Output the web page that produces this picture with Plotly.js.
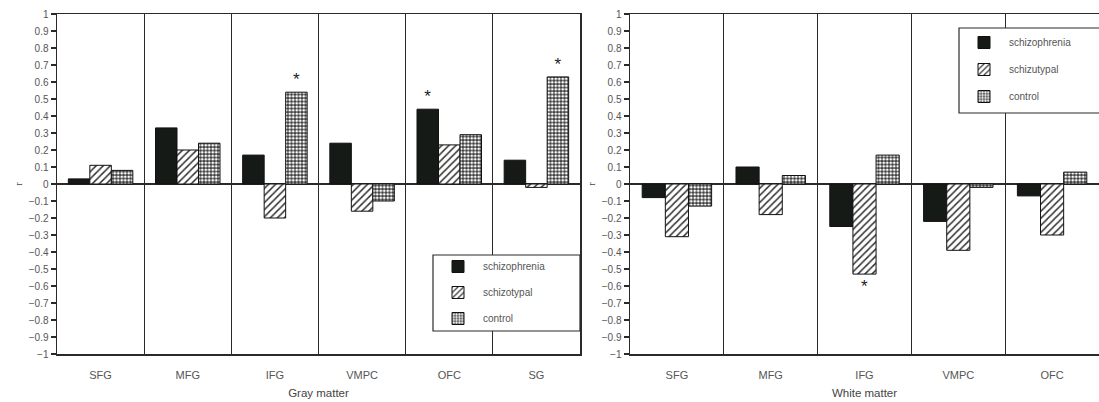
<!DOCTYPE html>
<html>
<head>
<meta charset="utf-8">
<script src="https://cdn.plot.ly/plotly-3.0.1.min.js"></script>
<style>html,body{margin:0;padding:0;background:#fff;}#chart{width:1099px;height:402px;}</style>
</head>
<body>
<div id="chart"></div>
<script>
// ---- data ----
const grayRegions = ['SFG', 'MFG', 'IFG', 'VMPC', 'OFC', 'SG'];
const graySchizophrenia = [0.03, 0.33, 0.17, 0.24, 0.44, 0.14];
const graySchizotypal = [0.11, 0.20, -0.20, -0.16, 0.23, -0.02];
const grayControl = [0.08, 0.24, 0.54, -0.10, 0.29, 0.63];
const grayStarSchizophrenia = ['', '', '', '', '*', ''];
const grayStarSchizotypal = ['', '', '', '', '', ''];
const grayStarControl = ['', '', '*', '', '', '*'];

const whiteRegions = ['SFG', 'MFG', 'IFG', 'VMPC', 'OFC'];
const whiteSchizophrenia = [-0.08, 0.10, -0.25, -0.22, -0.07];
const whiteSchizotypal = [-0.31, -0.18, -0.53, -0.39, -0.30];
const whiteControl = [-0.13, 0.05, 0.17, -0.02, 0.07];
const whiteStarSchizophrenia = ['', '', '', '', ''];
const whiteStarSchizotypal = ['', '', '*', '', ''];
const whiteStarControl = ['', '', '', '', ''];

const seriesNames = ['schizophrenia', 'schizotypal', 'control'];
const seriesNamesRight = ['schizophrenia', 'schizutypal', 'control'];
const xTitles = ['Gray matter', 'White matter'];
const yTitle = 'r';

// ---- styles ----
const ink = '#2a2a2a';
const textGray = '#555';
const styles = [
  {color: '#151a17', pattern: {shape: ''}},
  {color: '#ffffff', pattern: {shape: '/', fgcolor: '#333', bgcolor: '#fff', size: 5, solidity: 0.3}},
  {color: '#ffffff', pattern: {shape: '.', fgcolor: '#fff', bgcolor: '#3a3a3a', size: 3.5, solidity: 0.5}}
];

function makeTrace(x, y, text, i, xa, ya, legend, names) {
  return {
    type: 'bar', x: x, y: y, name: names[i],
    xaxis: xa, yaxis: ya, legend: legend, legendgroup: legend + i,
    text: text, textposition: 'outside', cliponaxis: false,
    textfont: {size: 17, color: '#222', family: 'Liberation Sans, Arial'},
    marker: {color: styles[i].color, pattern: styles[i].pattern, line: {color: '#111', width: 1}},
    hoverinfo: 'x+y'
  };
}

const data = [
  makeTrace(grayRegions, graySchizophrenia, grayStarSchizophrenia, 0, 'x', 'y', 'legend', seriesNames),
  makeTrace(grayRegions, graySchizotypal, grayStarSchizotypal, 1, 'x', 'y', 'legend', seriesNames),
  makeTrace(grayRegions, grayControl, grayStarControl, 2, 'x', 'y', 'legend', seriesNames),
  makeTrace(whiteRegions, whiteSchizophrenia, whiteStarSchizophrenia, 0, 'x2', 'y2', 'legend2', seriesNamesRight),
  makeTrace(whiteRegions, whiteSchizotypal, whiteStarSchizotypal, 1, 'x2', 'y2', 'legend2', seriesNamesRight),
  makeTrace(whiteRegions, whiteControl, whiteStarControl, 2, 'x2', 'y2', 'legend2', seriesNamesRight)
];

const W = 1099, H = 402, T = 14, B = 48;
const PH = H - T - B;
const py = function (px) { return (H - B - px) / PH; };
const font = {family: 'Liberation Sans, Arial, sans-serif', size: 10, color: textGray};

function xAxis(domain, title, anchor) {
  return {
    domain: domain, anchor: anchor, type: 'category',
    tickson: 'boundaries', ticks: '', showgrid: true, gridcolor: ink, gridwidth: 1,
    showline: true, linecolor: ink, linewidth: 1.5, mirror: true,
    tickfont: {size: 11, color: textGray}, ticklabelstandoff: 10,
    title: {text: title, font: {size: 11.5, color: '#444'}, standoff: 9},
    fixedrange: true
  };
}
function yAxis(anchor) {
  return {
    anchor: anchor, range: [-1, 1], tick0: 0, dtick: 0.1,
    ticks: 'outside', ticklen: 5, tickcolor: ink, tickwidth: 1.3,
    tickfont: {size: 10, color: textGray},
    showgrid: false, zeroline: true, zerolinecolor: ink, zerolinewidth: 1.3,
    showline: true, linecolor: ink, linewidth: 1.5, mirror: true,
    title: {text: yTitle, font: {size: 10, color: '#444', family: 'Liberation Serif, serif'}, standoff: 4},
    fixedrange: true
  };
}

const layout = {
  width: W, height: H,
  margin: {l: 0, r: 0, t: T, b: B, pad: 0},
  paper_bgcolor: '#fff', plot_bgcolor: '#fff',
  font: font,
  barmode: 'group', bargap: 0.26, bargroupgap: 0,
  showlegend: true,
  xaxis: xAxis([57 / W, 580 / W], xTitles[0], 'y'),
  yaxis: yAxis('x'),
  xaxis2: xAxis([630 / W, 1], xTitles[1], 'y2'),
  yaxis2: yAxis('x2'),
  legend: {
    x: 433 / W, y: py(252), xanchor: 'left', yanchor: 'top',
    borderwidth: 0, bgcolor: 'rgba(0,0,0,0)',
    font: {size: 10, color: textGray}, itemwidth: 40,
    traceorder: 'grouped', tracegroupgap: 7
  },
  legend2: {
    x: 959 / W, y: py(28), xanchor: 'left', yanchor: 'top',
    borderwidth: 0, bgcolor: 'rgba(0,0,0,0)',
    font: {size: 10, color: textGray}, itemwidth: 40,
    traceorder: 'grouped', tracegroupgap: 8
  },
  shapes: [
    {type: 'rect', xref: 'paper', yref: 'paper', x0: 433 / W, x1: 580 / W, y0: py(331), y1: py(255),
     line: {color: ink, width: 1.2}, fillcolor: '#fff', layer: 'above'},
    {type: 'rect', xref: 'paper', yref: 'paper', x0: 959 / W, x1: 1.01, y0: py(113), y1: py(28),
     line: {color: ink, width: 1.2}, fillcolor: '#fff', layer: 'above'}
  ]
};

Plotly.newPlot('chart', data, layout, {displayModeBar: false, staticPlot: true});
</script>
</body>
</html>
